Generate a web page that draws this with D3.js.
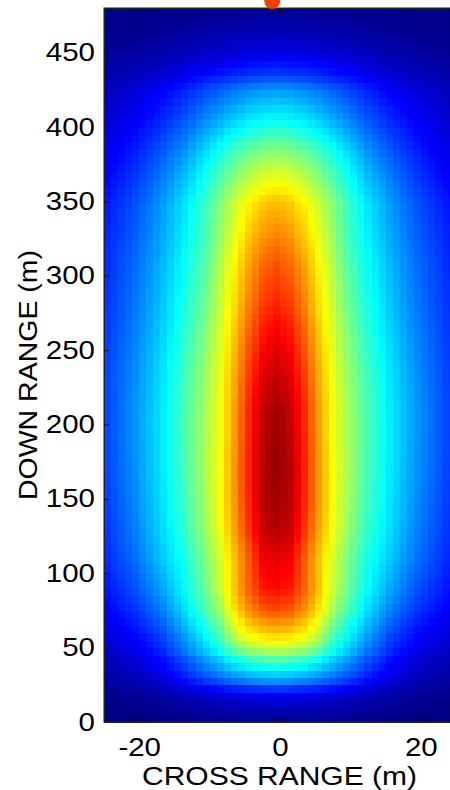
<!DOCTYPE html>
<html>
<head>
<meta charset="utf-8">
<script src="https://cdn.jsdelivr.net/npm/d3@7"></script>
<style>
html,body{margin:0;padding:0;background:#fff;}
svg{display:block;}
text{font-family:"Liberation Sans",Arial,sans-serif;fill:#000;}
</style>
</head>
<body>
<svg id="chart" width="450" height="790"></svg>
<script>
// ---- data ----
const xTicks = [-20, 0, 20];
const yTicks = [0, 50, 100, 150, 200, 250, 300, 350, 400, 450];
const xLabel = "CROSS RANGE (m)";
const yLabel = "DOWN RANGE (m)";
const crossCenter = -0.5;               // centre of the pattern (m)
// value along the centre column versus down range
const downRangeY  = [0, 8, 16, 21, 28, 36, 42, 48, 54, 60, 75, 90, 110, 130, 150, 175, 210, 243, 278, 311, 334, 350, 363, 377, 390, 405, 415, 426, 436, 445, 452, 465, 480];
const centerValue = [0.02, 0.05, 0.10, 0.15, 0.28, 0.38, 0.45, 0.55, 0.62, 0.68, 0.80, 0.87, 0.90, 0.95, 0.97, 0.98, 0.97, 0.92, 0.85, 0.79, 0.73, 0.69, 0.62, 0.55, 0.47, 0.38, 0.33, 0.27, 0.18, 0.13, 0.09, 0.05, 0.02];
// relative cross-range profiles (value / centre value) read on a few rows
const crossDist   = [0, 2, 4, 6, 8, 10, 13, 16, 20, 25];
const profileRows = [30, 55, 110, 200, 320, 384, 440];
const ratioAt30   = [1, 0.97, 0.92, 0.85, 0.76, 0.66, 0.48, 0.32, 0.18, 0.10];
const ratioAt55   = [1, 0.98, 0.94, 0.84, 0.68, 0.57, 0.42, 0.29, 0.19, 0.12];
const ratioAt110  = [1, 0.98, 0.87, 0.76, 0.65, 0.56, 0.44, 0.36, 0.26, 0.17];
const ratioAt200  = [1, 0.96, 0.86, 0.74, 0.63, 0.56, 0.46, 0.37, 0.28, 0.185];
const ratioAt320  = [1, 0.97, 0.90, 0.80, 0.70, 0.59, 0.48, 0.39, 0.29, 0.20];
const ratioAt384  = [1, 0.98, 0.93, 0.86, 0.77, 0.68, 0.53, 0.42, 0.30, 0.19];
const ratioAt440  = [1, 0.98, 0.94, 0.88, 0.80, 0.72, 0.58, 0.45, 0.32, 0.20];
const ratioRows = [ratioAt30, ratioAt55, ratioAt110, ratioAt200, ratioAt320, ratioAt384, ratioAt440];
const xDomain = [-25, 25], yDomain = [0, 480];
const cellW = 1, cellH = 5;

// ---- layout ----
const svg = d3.select("#chart");
const L = 104, R = 456, T = 8, B = 722;
const x = d3.scaleLinear().domain(xDomain).range([L, R]);
const y = d3.scaleLinear().domain(yDomain).range([B, T]);

const jet = d3.scaleLinear()
  .domain([0, 0.125, 0.375, 0.625, 0.875, 1])
  .range(["#000080", "#0000ff", "#00ffff", "#ffff00", "#ff0000", "#800000"])
  .clamp(true);

const centerScale = d3.scaleLinear().domain(downRangeY).range(centerValue).clamp(true);
const rowProfiles = ratioRows.map(r => d3.scaleLinear().domain(crossDist).range(r).clamp(true));

function value(xc, yc) {
  const d = Math.abs(xc - crossCenter);
  const perRow = rowProfiles.map(s => s(d));
  const ratio = d3.scaleLinear().domain(profileRows).range(perRow).clamp(true)(yc);
  return centerScale(yc) * ratio;
}

const cells = [];
for (const xi of d3.range(xDomain[0], xDomain[1], cellW)) {
  for (const yi of d3.range(yDomain[0], yDomain[1], cellH)) {
    cells.push({x0: xi, y0: yi, v: value(xi + cellW / 2, yi + cellH / 2)});
  }
}

const plot = svg.append("g");
plot.selectAll("rect.cell").data(cells).join("rect")
  .attr("class", "cell")
  .attr("x", d => x(d.x0))
  .attr("y", d => y(d.y0 + cellH))
  .attr("width", d => x(d.x0 + cellW) - x(d.x0) + 0.6)
  .attr("height", d => y(d.y0) - y(d.y0 + cellH) + 0.6)
  .attr("fill", d => jet(d.v))
  .attr("shape-rendering", "crispEdges");

// frame
svg.append("rect").attr("x", L).attr("y", T).attr("width", R - L).attr("height", B - T)
  .attr("fill", "none").attr("stroke", "#222").attr("stroke-width", 1);

const stretch = 1.18;
function stretchText(sel) {
  sel.each(function () {
    const w = this.getComputedTextLength();
    d3.select(this).attr("textLength", w * stretch).attr("lengthAdjust", "spacingAndGlyphs");
  });
}

// axes
const yAxis = svg.append("g").attr("transform", `translate(${L},0)`)
  .call(d3.axisLeft(y).tickValues(yTicks).tickFormat(d3.format("d")).tickSize(-5).tickSizeOuter(0).tickPadding(9));
const xAxis = svg.append("g").attr("transform", `translate(0,${B})`)
  .call(d3.axisBottom(x).tickValues(xTicks).tickFormat(d3.format("d")).tickSize(-5).tickSizeOuter(0).tickPadding(16));
const xTop = svg.append("g").attr("transform", `translate(0,${T})`)
  .call(d3.axisTop(x).tickValues(xTicks).tickFormat("").tickSize(-5).tickSizeOuter(0));
[yAxis, xAxis, xTop].forEach(g => {
  g.select(".domain").attr("stroke", "#222");
  g.selectAll(".tick line").attr("stroke", "#111");
  g.selectAll("text").attr("font-size", 25).attr("font-family", "Liberation Sans, Arial, sans-serif").attr("fill", "#000");
});
xAxis.selectAll(".tick text").text(d => d < 0 ? "-" + Math.abs(d) : d);
stretchText(yAxis.selectAll(".tick text"));
stretchText(xAxis.selectAll(".tick text"));

// axis titles
svg.append("text").attr("x", 279.5).attr("y", 785).attr("text-anchor", "middle")
  .attr("font-size", 25).attr("textLength", 275).attr("lengthAdjust", "spacingAndGlyphs").text(xLabel);
svg.append("text").attr("transform", "translate(37,375) rotate(-90)").attr("text-anchor", "middle")
  .attr("font-size", 25).attr("textLength", 250).attr("lengthAdjust", "spacingAndGlyphs").text(yLabel);

// red marker partly visible at the top edge
svg.append("circle").attr("cx", x(-1.1)).attr("cy", 1).attr("r", 8).attr("fill", "#f0400a");
</script>
</body>
</html>
